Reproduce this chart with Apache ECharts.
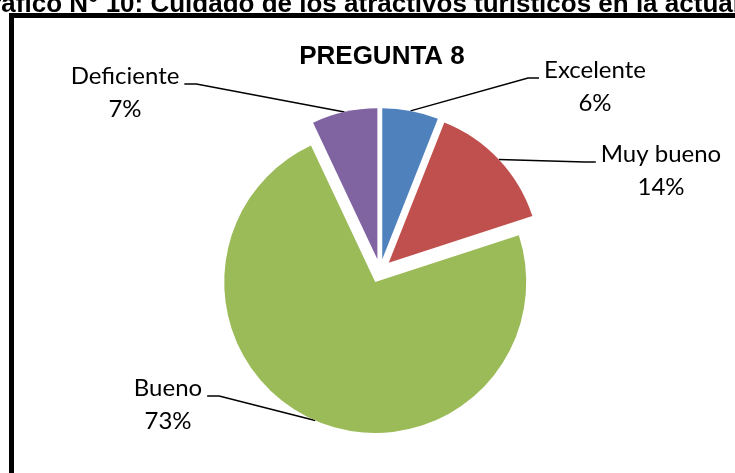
<!DOCTYPE html>
<html>
<head>
<meta charset="utf-8">
<script src="https://cdn.jsdelivr.net/npm/echarts@6/dist/echarts.min.js"></script>
<style>
  html, body { margin: 0; padding: 0; background: #fff; }
  #chart { width: 735px; height: 473px; }
</style>
</head>
<body>
<div id="chart"></div>
<script>
const categories = ['Excelente', 'Muy bueno', 'Bueno', 'Deficiente']
const values = [6, 14, 73, 7]
const colors = ['#4F81BD', '#C0504D', '#9BBB59', '#8064A2']

// label block centres and the side the leader line comes in from
const labelPos = [
  { x: 595, y: 87, side: 'left' },
  { x: 661, y: 171, side: 'left' },
  { x: 168, y: 405, side: 'right' },
  { x: 125, y: 93, side: 'right' }
]

const pieCenter = [380, 271]
const pieRadius = 151
const explode = 12

const chart = echarts.init(document.getElementById('chart'))

const pieData = categories.map((name, i) => ({
  name,
  value: values[i],
  itemStyle: { color: colors[i] }
}))

chart.setOption({
  animation: false,
  title: {
    text: 'PREGUNTA 8',
    left: 377,
    top: 39,
    textAlign: 'center',
    textStyle: {
      fontFamily: 'Liberation Sans',
      fontWeight: 'bold',
      fontSize: 26,
      color: '#000'
    }
  },
  graphic: [
    {
      type: 'text',
      x: -29,
      y: 18,
      style: {
        text: 'Gráfico N° 10: Cuidado de los atractivos turísticos en la actualidad',
        font: 'bold 26px "Liberation Sans"',
        fill: '#000',
        verticalAlign: 'bottom'
      }
    },
    {
      type: 'rect',
      shape: { x: 11.5, y: 15.5, width: 800, height: 520 },
      style: { fill: 'none', stroke: '#000', lineWidth: 5 }
    }
  ],
  series: [
    // exploded slices
    {
      type: 'pie',
      center: pieCenter,
      radius: pieRadius,
      startAngle: 90,
      clockwise: true,
      avoidLabelOverlap: false,
      selectedMode: 'multiple',
      selectedOffset: explode,
      select: { itemStyle: { borderWidth: 0 } },
      emphasis: { disabled: true },
      label: { show: false },
      labelLine: { show: false },
      data: pieData.map(d => Object.assign({}, d, { selected: true }))
    },
    // invisible copy that carries labels and leader lines
    {
      type: 'pie',
      silent: true,
      center: pieCenter,
      radius: pieRadius,
      startAngle: 90,
      clockwise: true,
      avoidLabelOverlap: false,
      emphasis: { disabled: true },
      itemStyle: { color: 'rgba(0,0,0,0)' },
      data: categories.map((name, i) => ({ name, value: values[i] })),
      label: {
        show: true,
        position: 'outside',
        formatter: '{b}\n{c}%',
        fontFamily: 'Lato',
        fontSize: 24,
        lineHeight: 33,
        color: '#000'
      },
      labelLine: {
        show: true,
        length: 20,
        length2: 10,
        lineStyle: { color: '#000', width: 1.5 }
      },
      labelLayout: function (params) {
        const p = labelPos[params.dataIndex]
        const w = params.labelRect.width
        // push the line start out with the exploded slice
        const s = params.labelLinePoints[0]
        const dx = s[0] - pieCenter[0]
        const dy = s[1] - pieCenter[1]
        const len = Math.sqrt(dx * dx + dy * dy)
        const start = [s[0] + dx / len * explode, s[1] + dy / len * explode]
        let endX, elbowX
        if (p.side === 'left') {
          endX = p.x - w / 2 - 5
          elbowX = endX - 11
        } else {
          endX = p.x + w / 2 + 5
          elbowX = endX + 12
        }
        const endY = p.y - 9
        return {
          x: p.x,
          y: p.y,
          align: 'center',
          verticalAlign: 'middle',
          labelLinePoints: [start, [elbowX, endY], [endX, endY]]
        }
      }
    }
  ]
})
</script>
</body>
</html>
